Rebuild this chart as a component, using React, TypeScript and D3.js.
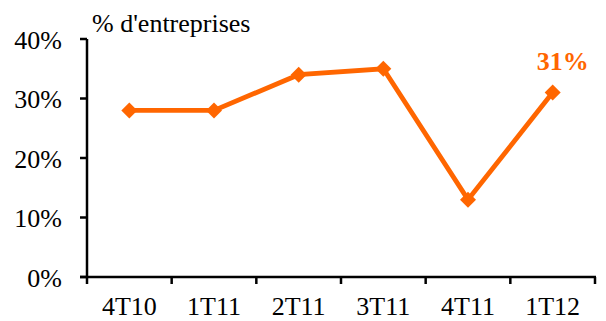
import { useMemo } from "react";
import * as d3 from "d3";

const categories = ["4T10", "1T11", "2T11", "3T11", "4T11", "1T12"];
const values = [28, 28, 34, 35, 13, 31];
const yTicks = [0, 10, 20, 30, 40];

const ORANGE = "#FF6600";
const FONT = "'Liberation Serif', 'Times New Roman', serif";

export default function App() {
  const x = useMemo(
    () => d3.scaleBand<string>().domain(categories).range([87, 595]).padding(0),
    []
  );
  const y = useMemo(() => d3.scaleLinear().domain([0, 40]).range([277, 39]), []);

  const line = d3
    .line<number>()
    .x((_, i) => (x(categories[i]) as number) + x.bandwidth() / 2)
    .y((d) => y(d));

  const marker = d3.symbol().type(d3.symbolSquare).size(128)();

  // boundaries between categories, where the x ticks sit
  const bounds = categories.map((c) => x(c) as number).concat([595]);
  const last = values.length - 1;

  return (
    <svg
      width={606}
      height={321}
      style={{ position: "absolute", left: 0, top: 0, background: "#fff" }}
      fontFamily={FONT}
    >
      <text x={92} y={32} fontSize={26} fill="#000">
        % d'entreprises
      </text>
      {/* y axis */}
      <line x1={87} x2={87} y1={y(40)} y2={y(0)} stroke="#000" strokeWidth={2.5} />
      {yTicks.map((t) => (
        <g key={t}>
          <line x1={80} x2={87} y1={y(t)} y2={y(t)} stroke="#000" strokeWidth={2.5} />
          <text x={62} y={y(t) + 9.5} textAnchor="end" fontSize={26} fill="#000">
            {t}%
          </text>
        </g>
      ))}
      {/* x axis */}
      <line x1={80} x2={596} y1={y(0)} y2={y(0)} stroke="#000" strokeWidth={2.5} />
      {bounds.map((b, i) => (
        <line key={i} x1={b} x2={b} y1={y(0)} y2={y(0) + 7} stroke="#000" strokeWidth={2.5} />
      ))}
      {categories.map((c) => (
        <text
          key={c}
          x={(x(c) as number) + x.bandwidth() / 2}
          y={315}
          textAnchor="middle"
          fontSize={26}
          fill="#000"
        >
          {c}
        </text>
      ))}
      <path d={line(values) || ""} fill="none" stroke={ORANGE} strokeWidth={4.8} />
      {values.map((v, i) => (
        <path
          key={i}
          d={marker || ""}
          fill={ORANGE}
          transform={`translate(${(x(categories[i]) as number) + x.bandwidth() / 2},${y(v)}) rotate(45)`}
        />
      ))}
      <text
        x={(x(categories[last]) as number) + x.bandwidth() / 2 + 10}
        y={70}
        textAnchor="middle"
        fontSize={26}
        fontWeight="bold"
        fill={ORANGE}
      >
        {values[last]}%
      </text>
    </svg>
  );
}
